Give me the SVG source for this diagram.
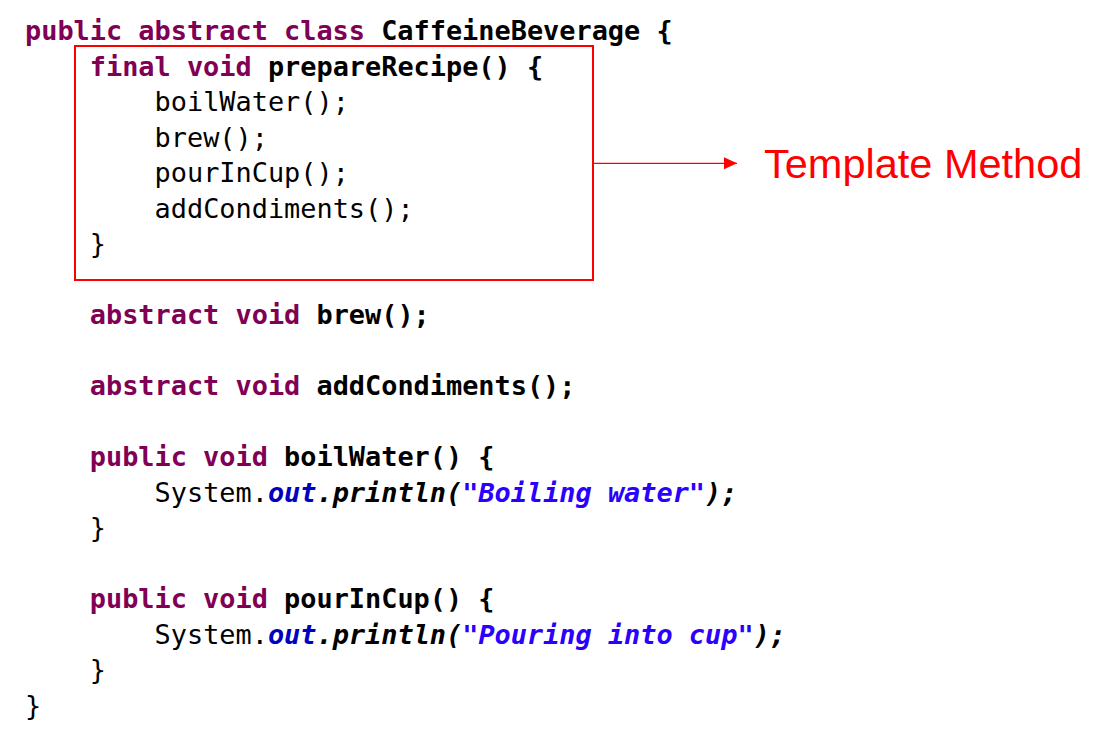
<svg xmlns="http://www.w3.org/2000/svg" width="1106" height="735" viewBox="0 0 1106 735">
<style>
.code{font-family:"DejaVu Sans Mono","Liberation Mono",monospace;font-size:26.9px;fill:#000;}
.b{font-weight:bold;}
.kw{fill:#7F0055;font-weight:bold;}
.fld{fill:#0000C0;font-weight:bold;font-style:italic;}
.it{font-style:italic;font-weight:bold;}
.str{fill:#2A00FF;font-weight:bold;font-style:italic;}
.lbl{font-family:"Liberation Sans",Arial,sans-serif;font-size:41.5px;fill:#FF0000;}
</style>
<defs>
<marker id="arr" viewBox="0 0 13 12" refX="13" refY="6" markerWidth="13" markerHeight="12" markerUnits="userSpaceOnUse" orient="auto">
<path d="M0,0 L13,6 L0,12 Z" fill="#FF0000"/>
</marker>
</defs>
<g id="code">
<text class="code b" x="25" y="40"><tspan class="kw">public abstract class</tspan> CaffeineBeverage {</text>
<text class="code b" x="89.8" y="75.5"><tspan class="kw">final void</tspan> prepareRecipe() {</text>
<text class="code" x="154.6" y="111">boilWater();</text>
<text class="code" x="154.6" y="146.5">brew();</text>
<text class="code" x="154.6" y="182">pourInCup();</text>
<text class="code" x="154.6" y="217.5">addCondiments();</text>
<text class="code" x="89.8" y="253">}</text>
<text class="code b" x="89.8" y="324"><tspan class="kw">abstract void</tspan> brew();</text>
<text class="code b" x="89.8" y="395"><tspan class="kw">abstract void</tspan> addCondiments();</text>
<text class="code b" x="89.8" y="466"><tspan class="kw">public void</tspan> boilWater() {</text>
<text class="code" x="154.6" y="501.5">System.<tspan class="fld">out</tspan><tspan class="it">.println(</tspan><tspan class="str">"Boiling water"</tspan><tspan class="it">);</tspan></text>
<text class="code" x="89.8" y="537">}</text>
<text class="code b" x="89.8" y="608"><tspan class="kw">public void</tspan> pourInCup() {</text>
<text class="code" x="154.6" y="643.5">System.<tspan class="fld">out</tspan><tspan class="it">.println(</tspan><tspan class="str">"Pouring into cup"</tspan><tspan class="it">);</tspan></text>
<text class="code" x="89.8" y="679">}</text>
<text class="code" x="25" y="714.5">}</text>
</g>
<g id="template-box">
<rect x="75" y="46" width="518" height="234" fill="none" stroke="#FF0000" stroke-width="2"/>
</g>
<g id="connectors">
<line x1="594" y1="163.3" x2="737" y2="163.3" stroke="#FF0000" stroke-width="1.3" marker-end="url(#arr)"/>
</g>
<g id="label">
<text class="lbl" x="764" y="178.3">Template Method</text>
</g>
</svg>
